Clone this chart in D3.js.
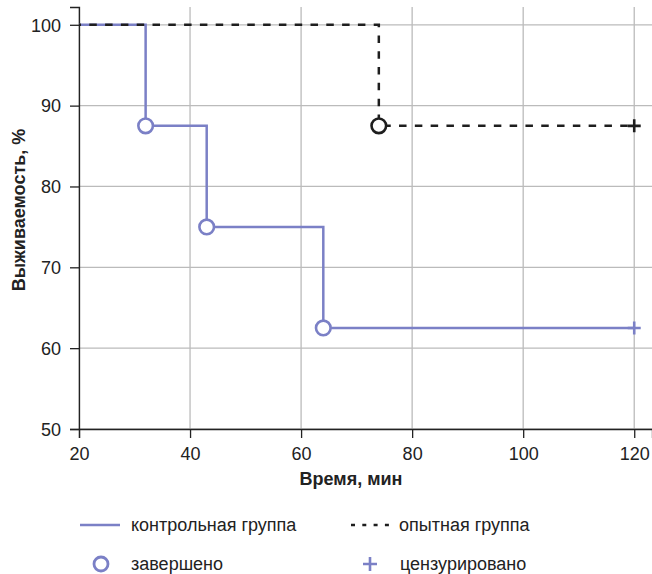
<!DOCTYPE html>
<html><head><meta charset="utf-8">
<script src="https://cdn.jsdelivr.net/npm/d3@7"></script>
<style>body{margin:0;background:#fff}svg{display:block;font-family:"Liberation Sans",Arial,sans-serif}</style>
</head><body><svg id="c" width="652" height="574"></svg>
<script>
const xTicks=[20,40,60,80,100,120];
const yTicks=[50,60,70,80,90,100];
const controlTime=[20,32,43,64,120];
const controlSurv=[100,87.5,75,62.5,62.5];
const expTime=[20,74,120];
const expSurv=[100,87.5,87.5];
const controlEvents=[[32,87.5],[43,75],[64,62.5]];
const controlCensored=[[120,62.5]];
const expEvents=[[74,87.5]];
const expCensored=[[120,87.5]];
const legendLabels=["контрольная группа","опытная группа","завершено","цензурировано"];

const svg=d3.select("#c");
const x=d3.scaleLinear().domain([20,123.2]).range([79,652]);
const y=d3.scaleLinear().domain([50,102.2]).range([429,7]);
const blue="#7b80c6", dark="#1e1e1e", FS=18;

// grid
svg.append("g").selectAll("line").data(xTicks).join("line")
 .attr("x1",d=>x(d)).attr("x2",d=>x(d)).attr("y1",y(102.2)).attr("y2",y(50))
 .attr("stroke","#bbb").attr("stroke-width",1.3);
svg.append("g").selectAll("line").data(yTicks).join("line")
 .attr("x1",x(20)).attr("x2",652).attr("y1",d=>y(d)).attr("y2",d=>y(d))
 .attr("stroke","#bbb").attr("stroke-width",1.3);

// axes
const xa=svg.append("g").attr("transform",`translate(0,${y(50)})`)
 .call(d3.axisBottom(x).tickValues(xTicks).tickSize(9).tickPadding(9));
const ya=svg.append("g").attr("transform",`translate(${x(20)},0)`)
 .call(d3.axisLeft(y).tickValues(yTicks).tickSize(9).tickPadding(9));
[xa,ya].forEach(a=>{a.selectAll("text").attr("font-size",FS).attr("fill","#222").attr("font-family","Liberation Sans, Arial, sans-serif");
 a.selectAll("line,path").attr("stroke","#222").attr("stroke-width",1.3);});
ya.selectAll("text").attr("dy","0.35em");

// lines
const line=d3.line().x(d=>x(d[0])).y(d=>y(d[1])).curve(d3.curveStepAfter);
svg.append("path").datum(controlTime.map((t,i)=>[t,controlSurv[i]])).attr("d",line)
 .attr("fill","none").attr("stroke",blue).attr("stroke-width",2.5);
svg.append("path").datum(expTime.map((t,i)=>[t,expSurv[i]])).attr("d",line)
 .attr("fill","none").attr("stroke",dark).attr("stroke-width",2.5)
 .attr("stroke-dasharray","7.5,8.3").attr("stroke-dashoffset",5.5);

function circles(data,col){svg.append("g").selectAll("circle").data(data).join("circle")
 .attr("cx",d=>x(d[0])).attr("cy",d=>y(d[1])).attr("r",7.3).attr("fill","#fff").attr("stroke",col).attr("stroke-width",2.6);}
function pluses(data,col){const g=svg.append("g");data.forEach(d=>{
 g.append("path").attr("d",`M${x(d[0])-6.5},${y(d[1])}h13M${x(d[0])},${y(d[1])-6.5}v13`).attr("stroke",col).attr("stroke-width",2.6);});}
circles(controlEvents,blue); circles(expEvents,dark);
pluses(controlCensored,blue); pluses(expCensored,dark);

// titles
svg.append("text").attr("x",351).attr("y",485).attr("text-anchor","middle")
 .attr("font-size",FS).attr("font-weight","bold").attr("fill","#222").text("Время, мин");
svg.append("text").attr("transform",`translate(25,210) rotate(-90)`).attr("text-anchor","middle")
 .attr("font-size",FS).attr("font-weight","bold").attr("fill","#222").text("Выживаемость, %");

// legend
const lg=svg.append("g").attr("font-size",FS).attr("fill","#222");
lg.append("line").attr("x1",80).attr("x2",120).attr("y1",525).attr("y2",525).attr("stroke",blue).attr("stroke-width",2.5);
lg.append("text").attr("x",131).attr("y",531).text(legendLabels[0]);
lg.append("line").attr("x1",351).attr("x2",389).attr("y1",525).attr("y2",525).attr("stroke",dark).attr("stroke-width",2.5).attr("stroke-dasharray","4,7.3");
lg.append("text").attr("x",399).attr("y",531).text(legendLabels[1]);
lg.append("circle").attr("cx",101).attr("cy",564).attr("r",7).attr("fill","#fff").attr("stroke",blue).attr("stroke-width",2.8);
lg.append("text").attr("x",131).attr("y",570).text(legendLabels[2]);
lg.append("path").attr("d","M363,564h14M370,557v14").attr("stroke",blue).attr("stroke-width",2.6);
lg.append("text").attr("x",400).attr("y",570).text(legendLabels[3]);
</script></body></html>
